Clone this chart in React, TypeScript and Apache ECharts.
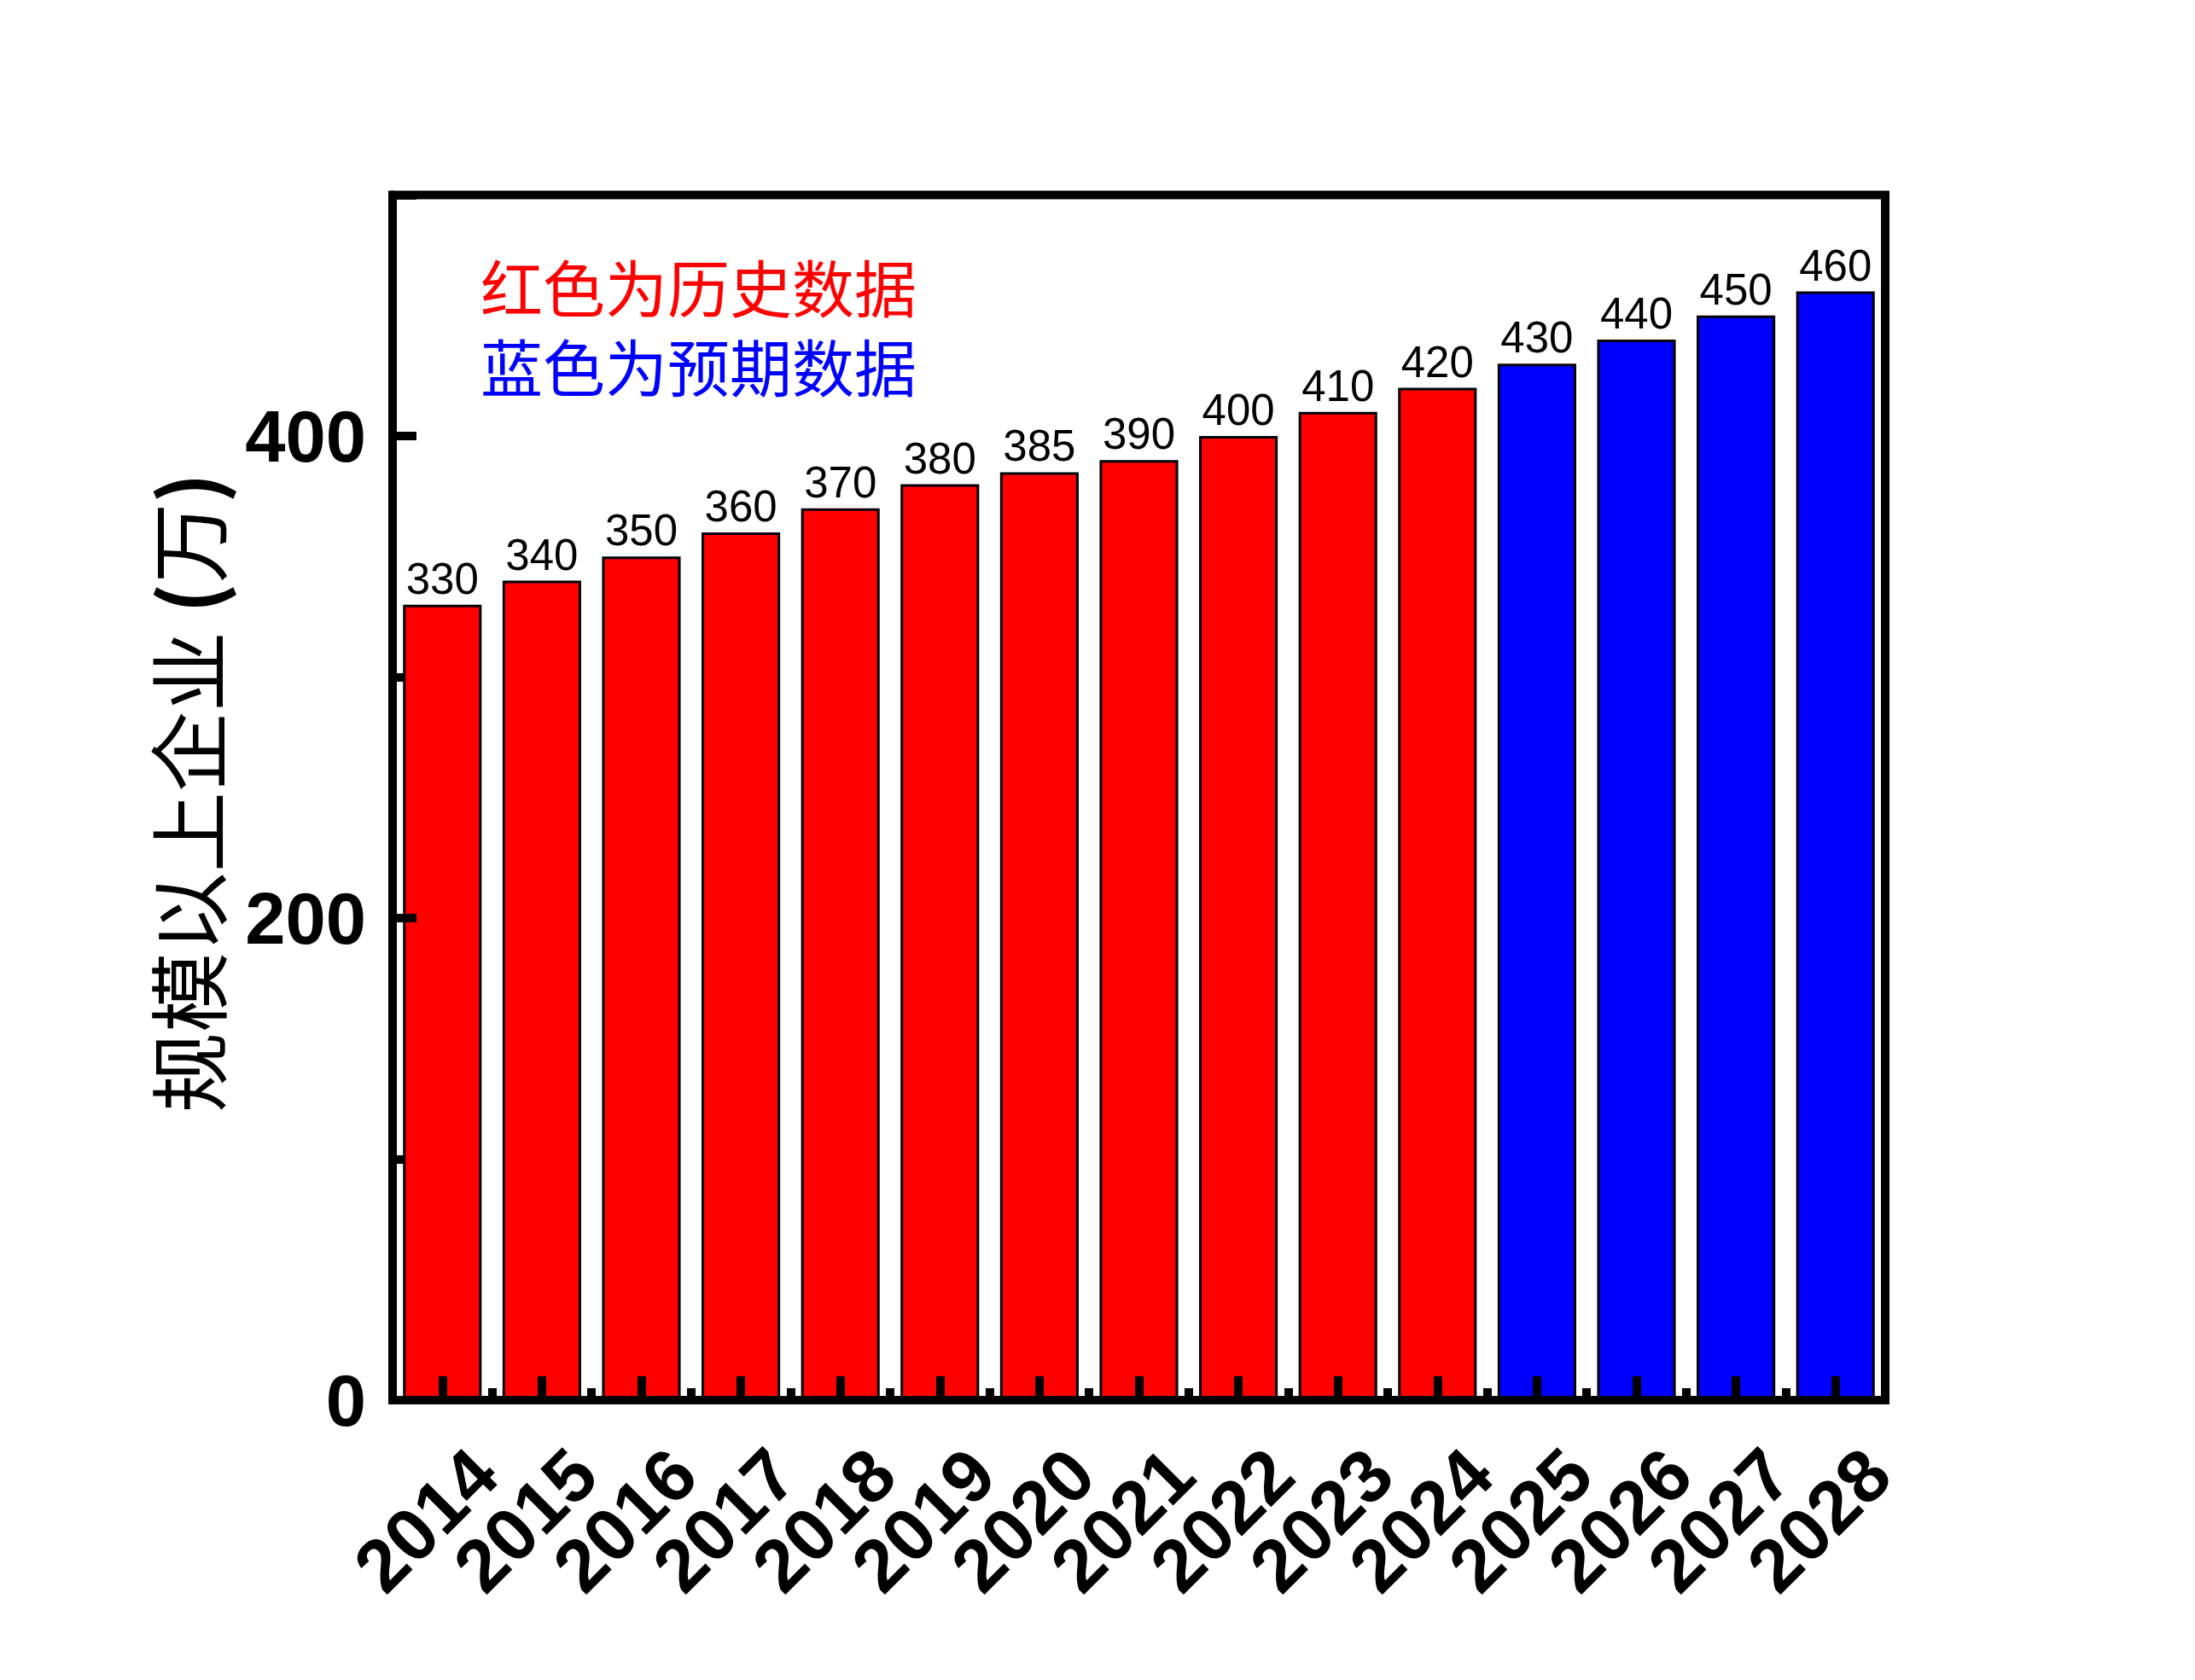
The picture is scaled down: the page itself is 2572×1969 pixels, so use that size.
import React, { useEffect, useRef } from "react";
import * as echarts from "echarts";

// ---- data ----
const categories = ["2014", "2015", "2016", "2017", "2018", "2019", "2020", "2021", "2022", "2023", "2024", "2025", "2026", "2027", "2028"];
const values = [330, 340, 350, 360, 370, 380, 385, 390, 400, 410, 420, 430, 440, 450, 460];
const dataKind = ["hist", "hist", "hist", "hist", "hist", "hist", "hist", "hist", "hist", "hist", "hist", "pred", "pred", "pred", "pred"];
const yTickLabels = ["0", "200", "400"];
const yAxisTitle = "规模以上企业 (万)";
const noteHistory = "红色为历史数据";
const notePrediction = "蓝色为预期数据";

const RED = "#FF0000";
const BLUE = "#0000FF";
const LATIN = '"Liberation Sans", Arial, sans-serif';
const CJK = '"Noto Sans CJK SC", "Noto Sans CJK JP", sans-serif';

export default function App() {
  const ref = useRef<HTMLDivElement | null>(null);

  useEffect(() => {
    if (!ref.current) return;
    const chart = echarts.init(ref.current, undefined, { renderer: "svg" });

    const option: any = {
      animation: false,
      backgroundColor: "#ffffff",
      grid: {
        left: 460,
        top: 228.5,
        width: 1749,
        height: 1412.5,
        show: true,
        borderColor: "#000",
        borderWidth: 10,
        backgroundColor: "transparent",
      },
      xAxis: [
        {
          type: "category",
          data: categories,
          position: "bottom",
          z: 10,
          axisLine: { show: true, lineStyle: { color: "#000", width: 10 } },
          axisTick: {
            show: true,
            inside: true,
            alignWithLabel: true,
            length: 28,
            lineStyle: { color: "#000", width: 10 },
          },
          axisLabel: {
            interval: 0,
            rotate: 45,
            fontSize: 87,
            fontWeight: "bold",
            fontFamily: LATIN,
            color: "#000",
            margin: 23,
            verticalAlign: "top",
            lineHeight: 138,
          },
          splitLine: { show: false },
        },
        {
          type: "category",
          data: categories,
          position: "bottom",
          z: 10,
          axisLine: { show: false },
          axisTick: {
            show: true,
            inside: true,
            alignWithLabel: false,
            length: 14,
            lineStyle: { color: "#000", width: 10 },
          },
          axisLabel: { show: false },
          splitLine: { show: false },
        },
      ],
      yAxis: [
        {
          type: "value",
          min: 0,
          max: 500,
          interval: 200,
          z: 10,
          axisLine: { show: true, lineStyle: { color: "#000", width: 10 } },
          axisTick: {
            show: true,
            inside: true,
            length: 28,
            lineStyle: { color: "#000", width: 10 },
          },
          axisLabel: {
            fontSize: 85,
            fontWeight: "bold",
            fontFamily: LATIN,
            color: "#000",
            margin: 31,
            padding: [0, 0, 9, 0],
            formatter: (v: number) => (yTickLabels.indexOf(String(v)) >= 0 ? String(v) : ""),
          },
          splitLine: { show: false },
        },
        {
          type: "value",
          min: 0,
          max: 500,
          interval: 100,
          position: "left",
          z: 10,
          axisLine: { show: false },
          axisTick: {
            show: true,
            inside: true,
            length: 14,
            lineStyle: { color: "#000", width: 10 },
          },
          axisLabel: { show: false },
          splitLine: { show: false },
        },
      ],
      series: [
        {
          type: "bar",
          xAxisIndex: 0,
          yAxisIndex: 0,
          barWidth: "79%",
          data: values.map((v, i) => ({
            value: v,
            itemStyle: { color: dataKind[i] === "hist" ? RED : BLUE },
          })),
          itemStyle: { borderColor: "#000", borderWidth: 3 },
          label: {
            show: true,
            position: "top",
            distance: 5,
            fontSize: 51,
            fontFamily: LATIN,
            color: "#000",
          },
        },
      ],
      graphic: [
        {
          type: "text",
          x: 563,
          y: 380.5,
          style: {
            text: "{r|" + noteHistory + "}\n{b|" + notePrediction + "}",
            fontSize: 73,
            lineHeight: 93,
            fontFamily: CJK,
            align: "left",
            verticalAlign: "middle",
            textAlign: "left",
            textVerticalAlign: "middle",
            rich: {
              r: { fill: RED, fontSize: 73, lineHeight: 93, fontFamily: CJK },
              b: { fill: BLUE, fontSize: 73, lineHeight: 93, fontFamily: CJK },
            },
          },
        },
        {
          type: "text",
          x: 217,
          y: 929,
          rotation: Math.PI / 2,
          style: {
            text: "规模以上企业 {b|(}万{b|)}",
            fill: "#000",
            fontSize: 94,
            lineHeight: 100,
            fontFamily: CJK,
            align: "center",
            verticalAlign: "middle",
            textAlign: "center",
            textVerticalAlign: "middle",
            rich: {
              b: { fontSize: 94, lineHeight: 100, fontFamily: CJK, fontWeight: "bold", fill: "#000" },
            },
          },
        },
      ],
    };

    chart.setOption(option);
    return () => chart.dispose();
  }, []);

  return (
    <div
      ref={ref}
      style={{ position: "fixed", left: 0, top: 0, width: 2572, height: 1969, background: "#fff" }}
      title={yAxisTitle}
    />
  );
}
